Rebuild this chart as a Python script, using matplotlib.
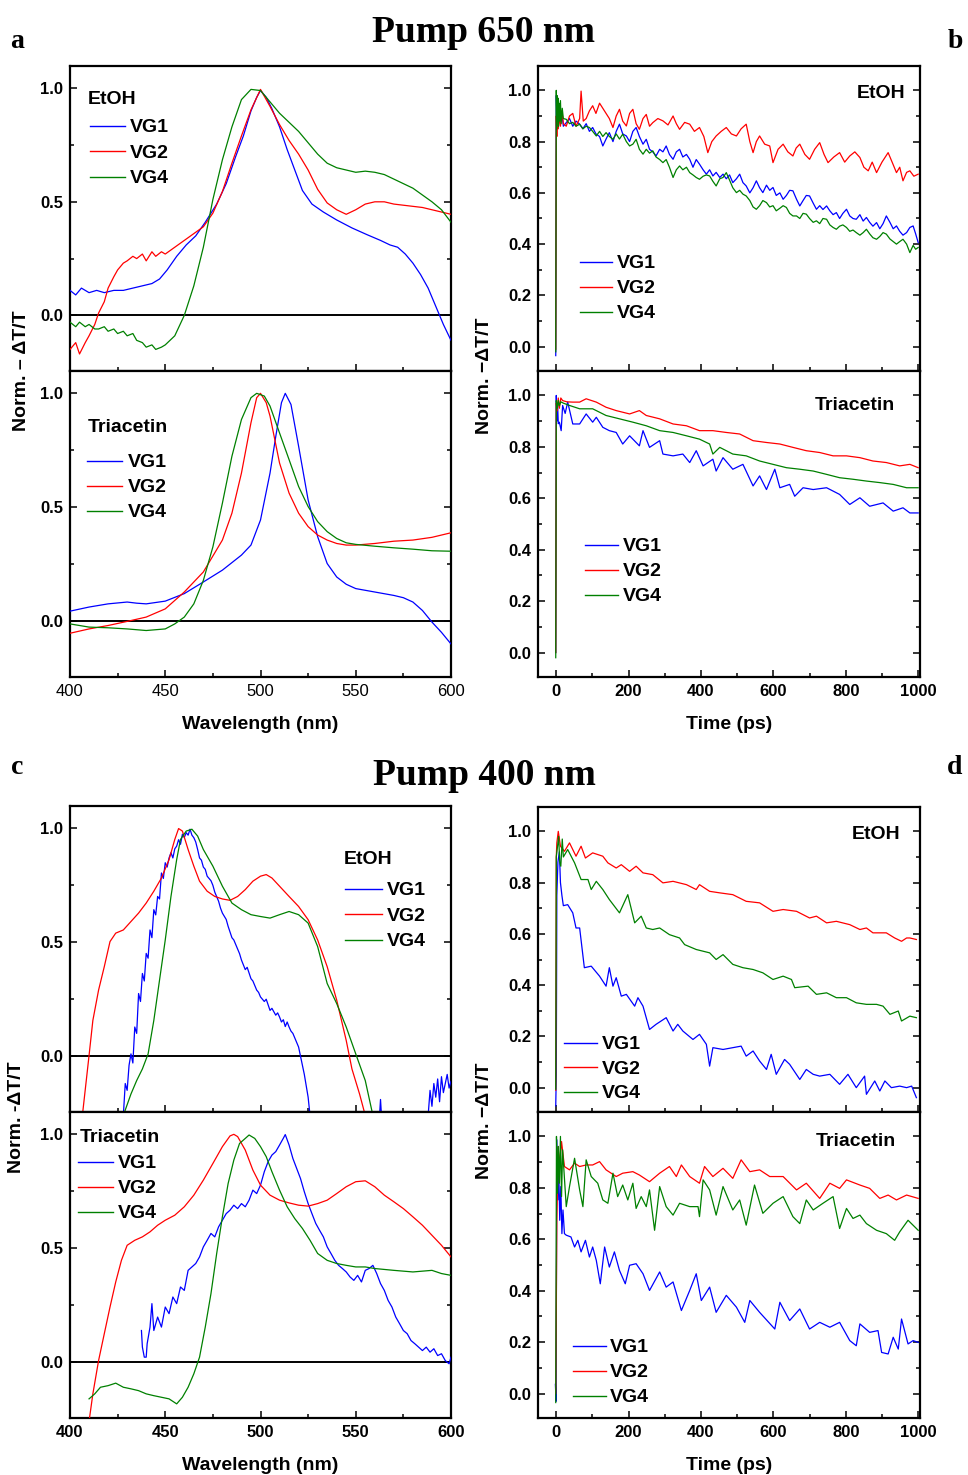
import numpy as np
import matplotlib
matplotlib.use('Agg')
import matplotlib.pyplot as plt
from matplotlib.ticker import MultipleLocator, FormatStrFormatter
from matplotlib.lines import Line2D

W, H = 968, 1475
plt.rcParams['font.family'] = ['Liberation Sans', 'DejaVu Sans']
plt.rcParams['font.weight'] = 'bold'
plt.rcParams['axes.labelweight'] = 'bold'

BLUE, RED, GREEN = '#0000FF', '#FF0000', '#008000'
series_labels = ['VG1', 'VG2', 'VG4']
series_colors = [BLUE, RED, GREEN]

# ---------------- Panel a, top (Pump 650 nm, EtOH spectra) ----------------
a1_wl_vg1 = [400, 403, 406, 410, 414, 418, 423, 428, 433, 438, 443, 447, 451, 456, 461, 466, 471, 477, 482,
             487, 491, 495, 498, 500, 503, 506, 510, 514, 518, 522, 527, 533, 540, 548, 556, 563, 568, 572,
             576, 580, 584, 588, 592, 596, 600]
a1_vg1 = [0.11, 0.09, 0.12, 0.10, 0.11, 0.10, 0.11, 0.11, 0.12, 0.13, 0.14, 0.16, 0.20, 0.26, 0.31, 0.35, 0.41,
          0.49, 0.58, 0.70, 0.79, 0.90, 0.96, 0.99, 0.96, 0.91, 0.83, 0.73, 0.64, 0.55, 0.49, 0.455, 0.42, 0.385,
          0.355, 0.33, 0.31, 0.30, 0.27, 0.23, 0.18, 0.12, 0.04, -0.04, -0.11]
a1_wl_vg2 = [400, 403, 405, 408, 410, 413, 415, 418, 420, 423, 425, 428, 430, 433, 435, 438, 440, 443, 445, 448,
             450, 455, 460, 465, 470, 475, 480, 485, 490, 495, 500, 505, 510, 515, 520, 525, 530, 535, 540, 545,
             550, 555, 560, 565, 570, 575, 580, 585, 590, 595, 600]
a1_vg2 = [-0.15, -0.12, -0.17, -0.12, -0.09, -0.04, 0.01, 0.06, 0.12, 0.17, 0.20, 0.23, 0.24, 0.26, 0.25, 0.27,
          0.24, 0.28, 0.26, 0.28, 0.27, 0.30, 0.33, 0.36, 0.39, 0.45, 0.545, 0.67, 0.79, 0.905, 0.995, 0.92,
          0.84, 0.77, 0.71, 0.64, 0.555, 0.495, 0.465, 0.445, 0.465, 0.49, 0.50, 0.50, 0.49, 0.485, 0.48,
          0.475, 0.465, 0.455, 0.445]
a1_wl_vg4 = [400, 403, 405, 408, 410, 413, 415, 418, 420, 423, 425, 428, 430, 433, 435, 438, 440, 443, 445, 448,
             450, 455, 460, 465, 470, 475, 480, 485, 490, 495, 500, 505, 510, 515, 520, 525, 530, 535, 540, 545,
             550, 555, 560, 565, 570, 575, 580, 585, 590, 595, 600]
a1_vg4 = [-0.03, -0.05, -0.03, -0.05, -0.04, -0.06, -0.06, -0.05, -0.07, -0.06, -0.08, -0.07, -0.09, -0.08,
          -0.11, -0.12, -0.14, -0.13, -0.15, -0.14, -0.13, -0.09, 0.00, 0.13, 0.30, 0.51, 0.685, 0.83, 0.95,
          0.995, 0.99, 0.94, 0.89, 0.85, 0.81, 0.76, 0.71, 0.67, 0.65, 0.64, 0.63, 0.635, 0.63, 0.62, 0.60,
          0.58, 0.56, 0.53, 0.50, 0.465, 0.41]

# ---------------- Panel a, bottom (Pump 650 nm, Triacetin spectra) ----------------
a2_wl_vg1 = [400, 410, 420, 430, 435, 440, 450, 460, 470, 480, 490, 495, 500, 505, 508, 511, 513, 516, 520,
             525, 530, 535, 540, 545, 550, 560, 570, 575, 580, 585, 590, 595, 600]
a2_vg1 = [0.044, 0.062, 0.076, 0.084, 0.079, 0.076, 0.088, 0.121, 0.172, 0.224, 0.29, 0.334, 0.444, 0.65, 0.81,
          0.959, 1.0, 0.951, 0.768, 0.532, 0.371, 0.253, 0.194, 0.162, 0.143, 0.128, 0.113, 0.103, 0.084, 0.047,
          -0.004, -0.049, -0.10]
a2_wl_vg2 = [400, 410, 420, 430, 440, 450, 460, 470, 480, 485, 490, 495, 498, 500, 503, 505, 510, 515, 520,
             525, 530, 535, 540, 545, 550, 560, 570, 580, 590, 600]
a2_vg2 = [-0.053, -0.034, -0.019, -0.001, 0.018, 0.054, 0.128, 0.216, 0.356, 0.474, 0.65, 0.871, 0.981, 1.0,
          0.959, 0.90, 0.694, 0.562, 0.474, 0.415, 0.378, 0.356, 0.341, 0.334, 0.334, 0.341, 0.351, 0.356,
          0.368, 0.388]
a2_wl_vg4 = [400, 410, 420, 430, 440, 450, 455, 460, 465, 470, 475, 480, 485, 490, 495, 498, 502, 505, 510,
             515, 520, 525, 530, 535, 540, 545, 550, 560, 570, 580, 590, 600]
a2_vg4 = [-0.012, -0.026, -0.029, -0.034, -0.041, -0.034, -0.012, 0.018, 0.076, 0.179, 0.326, 0.518, 0.724,
          0.885, 0.981, 1.0, 0.988, 0.944, 0.826, 0.709, 0.591, 0.503, 0.437, 0.393, 0.363, 0.344, 0.337,
          0.329, 0.322, 0.316, 0.309, 0.307]

# ---------------- Panel b, top (Pump 650 nm, EtOH kinetics) : (time ps, value) ----------------
b1_vg1_pts = [(-1, -0.035), (0.5, 0.98), (2, 0.90), (4, 0.95), (6, 0.87), (9, 0.92), (12, 0.88), (16, 0.91),
              (20, 0.86), (28, 0.874), (37, 0.89), (46, 0.86), (55, 0.88), (65, 0.868), (74, 0.85), (83, 0.87),
              (92, 0.84), (101, 0.855), (110, 0.83), (120, 0.82), (129, 0.783), (138, 0.81), (147, 0.835),
              (157, 0.80), (166, 0.84), (175, 0.868), (184, 0.83), (194, 0.822), (203, 0.80), (212, 0.84),
              (221, 0.855), (230, 0.82), (240, 0.79), (249, 0.809), (258, 0.77), (267, 0.76), (276, 0.744),
              (286, 0.77), (295, 0.76), (304, 0.783), (313, 0.75), (323, 0.731), (332, 0.76), (341, 0.77),
              (350, 0.74), (360, 0.75), (369, 0.731), (378, 0.70), (387, 0.73), (396, 0.712), (406, 0.69),
              (415, 0.673), (424, 0.69), (433, 0.666), (442, 0.68), (452, 0.66), (461, 0.673), (470, 0.655),
              (479, 0.67), (488, 0.64), (498, 0.655), (507, 0.673), (516, 0.64), (525, 0.627), (535, 0.60),
              (544, 0.62), (553, 0.647), (562, 0.62), (571, 0.601), (581, 0.63), (590, 0.61), (599, 0.621),
              (608, 0.59), (618, 0.60), (627, 0.575), (636, 0.59), (645, 0.61), (654, 0.608), (664, 0.575),
              (673, 0.549), (682, 0.57), (691, 0.59), (700, 0.588), (710, 0.56), (719, 0.536), (728, 0.55),
              (737, 0.535), (747, 0.549), (756, 0.53), (765, 0.515), (774, 0.523), (783, 0.50), (792, 0.52),
              (802, 0.536), (811, 0.51), (820, 0.50), (829, 0.497), (839, 0.515), (848, 0.49), (857, 0.504),
              (866, 0.485), (875, 0.47), (885, 0.484), (894, 0.46), (903, 0.48), (912, 0.51), (922, 0.485),
              (931, 0.46), (940, 0.471), (949, 0.45), (958, 0.435), (968, 0.445), (977, 0.465), (986, 0.471),
              (993, 0.44), (1000, 0.406)]
b1_vg2_pts = [(-1, -0.01), (0.5, 0.90), (2, 0.82), (4, 0.93), (6, 0.85), (9, 0.90), (12, 0.86), (16, 0.92),
              (20, 0.87), (28, 0.86), (37, 0.90), (46, 0.91), (55, 0.86), (65, 0.89), (69, 0.997), (75, 0.88),
              (83, 0.89), (92, 0.92), (101, 0.94), (110, 0.91), (120, 0.95), (129, 0.93), (138, 0.91),
              (147, 0.89), (157, 0.855), (166, 0.90), (175, 0.926), (184, 0.88), (194, 0.861), (203, 0.91),
              (212, 0.926), (221, 0.87), (230, 0.848), (240, 0.89), (249, 0.906), (258, 0.86), (267, 0.874),
              (281, 0.89), (295, 0.881), (309, 0.865), (323, 0.90), (332, 0.87), (341, 0.848), (355, 0.875),
              (369, 0.868), (382, 0.84), (396, 0.855), (408, 0.82), (419, 0.757), (430, 0.80), (442, 0.822),
              (456, 0.84), (470, 0.855), (484, 0.83), (498, 0.822), (511, 0.85), (525, 0.868), (535, 0.80),
              (544, 0.757), (553, 0.80), (562, 0.822), (576, 0.79), (590, 0.783), (599, 0.718), (613, 0.77),
              (627, 0.79), (640, 0.76), (654, 0.744), (663, 0.775), (673, 0.79), (687, 0.75), (700, 0.731),
              (714, 0.77), (728, 0.796), (740, 0.75), (751, 0.718), (767, 0.74), (783, 0.757), (797, 0.72),
              (811, 0.744), (825, 0.76), (839, 0.738), (850, 0.70), (862, 0.686), (873, 0.72), (885, 0.679),
              (900, 0.72), (917, 0.757), (928, 0.72), (940, 0.679), (949, 0.70), (958, 0.647), (968, 0.68),
              (977, 0.686), (988, 0.665), (1000, 0.673)]
b1_vg4_pts = [(-1, -0.02), (0.5, 1.0), (1.5, 0.85), (2.5, 0.98), (3.5, 0.88), (5, 0.97), (6.5, 0.86), (8, 0.95),
              (10, 0.88), (12, 0.96), (14, 0.87), (17, 0.93), (20, 0.89), (28, 0.887), (37, 0.87), (46, 0.875),
              (55, 0.86), (65, 0.868), (74, 0.85), (83, 0.86), (92, 0.855), (101, 0.84), (111, 0.822),
              (120, 0.84), (129, 0.82), (138, 0.835), (147, 0.82), (157, 0.809), (166, 0.83), (175, 0.81),
              (184, 0.829), (194, 0.80), (203, 0.783), (212, 0.79), (221, 0.809), (230, 0.77), (240, 0.751),
              (249, 0.77), (258, 0.755), (267, 0.764), (276, 0.74), (286, 0.73), (295, 0.718), (304, 0.73),
              (313, 0.70), (323, 0.66), (332, 0.69), (341, 0.705), (350, 0.69), (360, 0.70), (369, 0.679),
              (378, 0.67), (387, 0.66), (396, 0.653), (406, 0.665), (415, 0.67), (424, 0.666), (433, 0.645),
              (442, 0.627), (452, 0.655), (461, 0.66), (470, 0.679), (479, 0.65), (488, 0.62), (498, 0.601),
              (507, 0.61), (516, 0.595), (525, 0.588), (535, 0.57), (544, 0.545), (553, 0.536), (562, 0.55),
              (571, 0.57), (581, 0.562), (590, 0.545), (599, 0.55), (608, 0.53), (618, 0.54), (627, 0.55),
              (636, 0.543), (645, 0.52), (654, 0.51), (664, 0.51), (673, 0.50), (682, 0.52), (691, 0.517),
              (700, 0.50), (710, 0.485), (719, 0.491), (728, 0.48), (737, 0.50), (747, 0.497), (756, 0.475),
              (765, 0.465), (774, 0.458), (783, 0.47), (792, 0.475), (802, 0.465), (811, 0.45), (820, 0.455),
              (829, 0.445), (839, 0.435), (848, 0.445), (857, 0.458), (866, 0.44), (875, 0.425), (885, 0.419),
              (894, 0.43), (903, 0.445), (912, 0.439), (922, 0.42), (931, 0.41), (940, 0.40), (949, 0.41),
              (958, 0.419), (968, 0.40), (977, 0.367), (986, 0.395), (993, 0.38), (1000, 0.387)]

# ---------------- Panel b, bottom (Pump 650 nm, Triacetin kinetics) ----------------
b2_t_vg1 = [-1, 0.5, 2, 4, 6, 9, 14, 18, 25, 32, 46, 65, 83, 101, 111, 129, 147, 166, 184, 203, 230, 240, 258,
            286, 295, 323, 350, 369, 387, 406, 433, 442, 461, 488, 516, 544, 562, 581, 604, 618, 645, 659, 682,
            710, 747, 783, 811, 839, 866, 903, 931, 958, 977, 1000]
b2_vg1 = [0.0, 1.0, 0.90, 0.97, 0.89, 0.896, 0.863, 0.961, 0.93, 0.974, 0.889, 0.889, 0.928, 0.896, 0.915,
          0.876, 0.863, 0.856, 0.811, 0.843, 0.804, 0.863, 0.798, 0.824, 0.772, 0.765, 0.772, 0.739, 0.785,
          0.726, 0.752, 0.706, 0.758, 0.713, 0.732, 0.648, 0.687, 0.634, 0.713, 0.641, 0.654, 0.608, 0.641,
          0.634, 0.641, 0.615, 0.576, 0.602, 0.569, 0.582, 0.55, 0.563, 0.543, 0.543]
b2_t_vg2 = [-1, 0.5, 3, 6, 9, 13, 18, 30, 46, 65, 83, 111, 138, 166, 203, 230, 249, 286, 323, 360, 396, 433, 470,
            507, 544, 581, 618, 654, 691, 728, 765, 802, 839, 875, 912, 949, 977, 1000]
b2_vg2 = [0.0, 0.97, 0.94, 0.99, 0.95, 0.99, 0.98, 0.975, 0.974, 0.974, 0.987, 0.974, 0.954, 0.941, 0.928, 0.941,
          0.922, 0.909, 0.889, 0.882, 0.863, 0.863, 0.856, 0.85, 0.824, 0.817, 0.811, 0.798, 0.785, 0.778,
          0.765, 0.765, 0.758, 0.745, 0.739, 0.726, 0.732, 0.719]
b2_t_vg4 = [-1, 0.5, 3, 6, 9, 13, 20, 37, 65, 101, 138, 175, 212, 249, 286, 323, 360, 396, 424, 433, 452, 488,
            525, 562, 599, 636, 673, 710, 747, 783, 820, 857, 894, 931, 968, 1000]
b2_vg4 = [-0.02, 0.98, 0.95, 0.98, 0.96, 0.975, 0.97, 0.961, 0.948, 0.948, 0.922, 0.909, 0.896, 0.882, 0.863,
          0.856, 0.843, 0.83, 0.811, 0.772, 0.798, 0.772, 0.765, 0.745, 0.732, 0.719, 0.713, 0.706, 0.693, 0.68,
          0.674, 0.667, 0.661, 0.654, 0.641, 0.641]

# ---------------- Panel c, top (Pump 400 nm, EtOH spectra) : (wavelength nm, value) ----------------
c1_vg1_pts = [(428, -0.26), (429, -0.12), (430, -0.15), (431, -0.04), (432, 0.01), (433, -0.03), (434, 0.128),
              (435, 0.10), (436, 0.275), (437, 0.24), (438, 0.363), (439, 0.33), (440, 0.451), (441, 0.43),
              (442, 0.554), (443, 0.52), (444, 0.643), (445, 0.62), (446, 0.701), (447, 0.69), (448, 0.804),
              (449, 0.78), (450, 0.849), (451, 0.83), (452, 0.87), (453, 0.893), (454, 0.87), (455, 0.91),
              (456, 0.922), (457, 0.95), (458, 0.93), (459, 0.974), (460, 0.96), (461, 0.981), (462, 0.97),
              (463, 0.996), (464, 0.97), (465, 0.959), (466, 0.94), (467, 0.907), (468, 0.87), (469, 0.86),
              (470, 0.83), (471, 0.82), (472, 0.79), (473, 0.78), (474, 0.77), (475, 0.75), (476, 0.72),
              (477, 0.70), (478, 0.68), (479, 0.65), (480, 0.628), (482, 0.60), (483, 0.57), (485, 0.52),
              (486, 0.51), (488, 0.47), (489, 0.45), (490, 0.422), (492, 0.38), (493, 0.39), (495, 0.34),
              (496, 0.33), (498, 0.29), (499, 0.28), (500, 0.26), (502, 0.24), (503, 0.25), (505, 0.201),
              (506, 0.21), (508, 0.18), (509, 0.19), (510, 0.172), (511, 0.15), (512, 0.16), (513, 0.13),
              (514, 0.15), (515, 0.128), (516, 0.11), (517, 0.10), (518, 0.08), (519, 0.06), (520, 0.04),
              (521, 0.0), (522, -0.04), (523, -0.08), (524, -0.13), (525, -0.18), (526, -0.26),
              (np.nan, np.nan),
              (562.5, -0.26), (563, -0.19), (563.5, -0.26),
              (np.nan, np.nan),
              (588, -0.26), (589, -0.15), (590, -0.22), (591, -0.12), (592, -0.18), (593, -0.10), (594, -0.20),
              (595, -0.09), (596, -0.16), (597, -0.12), (598, -0.08), (599, -0.14), (600, -0.11)]
c1_wl_vg2 = [406.5, 410, 412, 415, 418, 421, 424, 428, 432, 436, 440, 444, 448, 452, 455, 457, 459, 462, 465,
             468, 472, 476, 480, 484, 488, 492, 496, 500, 503, 506, 510, 515, 520, 525, 530, 535, 540, 545,
             548, 552, 555]
c1_vg2 = [-0.26, 0.003, 0.157, 0.29, 0.393, 0.503, 0.54, 0.554, 0.591, 0.628, 0.672, 0.724, 0.782, 0.863,
          0.951, 0.999, 0.988, 0.907, 0.834, 0.768, 0.724, 0.701, 0.69, 0.684, 0.701, 0.731, 0.768, 0.79,
          0.797, 0.782, 0.746, 0.701, 0.657, 0.599, 0.51, 0.393, 0.246, 0.069, -0.056, -0.166, -0.26]
c1_wl_vg4 = [428, 432, 435, 438, 441, 444, 447, 450, 453, 456, 458, 461, 464, 467, 470, 475, 480, 485, 490,
             495, 500, 505, 510, 515, 520, 525, 530, 535, 540, 545, 550, 555, 559]
c1_vg4 = [-0.26, -0.166, -0.107, -0.056, 0.01, 0.157, 0.334, 0.51, 0.701, 0.863, 0.951, 0.988, 0.996, 0.966,
          0.907, 0.834, 0.746, 0.672, 0.643, 0.621, 0.613, 0.606, 0.621, 0.635, 0.621, 0.584, 0.481, 0.319,
          0.231, 0.128, 0.01, -0.107, -0.26]

# ---------------- Panel c, bottom (Pump 400 nm, Triacetin spectra) ----------------
c2_wl_vg1 = [437.5, 438, 439, 440, 440.5, 442, 443, 444, 446, 448, 450, 452, 454, 456, 458, 460, 462, 464, 466,
             468, 470, 472, 474, 476, 478, 480, 482, 484, 486, 488, 490, 492, 494, 496, 498, 500, 502, 504, 506,
             508, 510, 512, 513, 515, 517, 519, 521, 523, 525, 527, 529, 531, 533, 535, 537, 539, 541, 543, 545,
             547, 549, 551, 553, 555, 557, 559, 561, 563, 565, 567, 569, 571, 573, 575, 577, 579, 581, 583, 585,
             587, 589, 591, 593, 595, 597, 599, 600]
c2_vg1 = [0.139, 0.066, 0.022, 0.022, 0.081, 0.154, 0.257, 0.139, 0.198, 0.154, 0.242, 0.213, 0.286, 0.257,
          0.33, 0.315, 0.403, 0.418, 0.433, 0.462, 0.506, 0.535, 0.565, 0.55, 0.594, 0.623, 0.652, 0.667, 0.689,
          0.674, 0.696, 0.682, 0.711, 0.755, 0.74, 0.777, 0.836, 0.88, 0.909, 0.924, 0.953, 0.983, 0.999, 0.953,
          0.894, 0.85, 0.806, 0.748, 0.696, 0.652, 0.609, 0.579, 0.55, 0.506, 0.477, 0.447, 0.425, 0.411,
          0.396, 0.374, 0.359, 0.381, 0.352, 0.403, 0.411, 0.425, 0.389, 0.345, 0.315, 0.271, 0.242, 0.198,
          0.169, 0.139, 0.125, 0.095, 0.081, 0.066, 0.051, 0.066, 0.044, 0.059, 0.029, 0.037, 0.007, -0.007,
          0.022]
c2_wl_vg2 = [410, 412, 415, 418, 421, 424, 427, 430, 434, 438, 442, 446, 450, 455, 460, 465, 470, 475, 480, 484,
             486, 488, 492, 496, 500, 505, 510, 515, 520, 525, 530, 535, 540, 545, 550, 555, 560, 565, 570, 575,
             580, 585, 590, 595, 600]
c2_vg2 = [-0.26, -0.139, 0.007, 0.125, 0.242, 0.352, 0.447, 0.513, 0.535, 0.55, 0.572, 0.601, 0.623, 0.645,
          0.682, 0.733, 0.799, 0.872, 0.946, 0.993, 1.0, 0.99, 0.931, 0.843, 0.777, 0.733, 0.711, 0.699, 0.689,
          0.685, 0.696, 0.711, 0.74, 0.77, 0.792, 0.796, 0.77, 0.733, 0.704, 0.674, 0.638, 0.601, 0.557,
          0.513, 0.462]
c2_wl_vg4 = [410, 413, 416, 420, 424, 428, 432, 436, 440, 444, 448, 452, 456, 459, 462, 465, 468, 471, 474, 477,
             480, 483, 486, 489, 492, 494, 497, 500, 503, 506, 510, 514, 518, 522, 526, 530, 535, 540, 545, 550,
             555, 560, 570, 580, 590, 595, 600]
c2_vg4 = [-0.161, -0.139, -0.11, -0.103, -0.092, -0.11, -0.117, -0.125, -0.139, -0.147, -0.154, -0.161, -0.183,
          -0.154, -0.11, -0.051, 0.022, 0.154, 0.301, 0.477, 0.638, 0.784, 0.887, 0.96, 0.982, 0.997, 0.982,
          0.946, 0.902, 0.836, 0.755, 0.682, 0.63, 0.587, 0.535, 0.477, 0.447, 0.433, 0.425, 0.418, 0.418,
          0.411, 0.403, 0.396, 0.403, 0.389, 0.381]

# ---------------- Panel d, top (Pump 400 nm, EtOH kinetics) ----------------
d1_t_vg1 = [-1, 0.5, 2, 5, 9, 12, 16, 20, 32, 46, 55, 65, 78, 97, 120, 138, 147, 157, 166, 180, 194, 217, 226,
            240, 258, 276, 304, 323, 336, 350, 378, 396, 415, 424, 433, 461, 488, 511, 525, 544, 562, 581, 594,
            608, 631, 645, 673, 691, 710, 728, 756, 783, 806, 829, 852, 857, 880, 894, 908, 926, 949, 968, 982,
            995]
d1_vg1 = [-0.071, 0.05, 0.75, 0.88, 0.92, 0.80, 0.75, 0.71, 0.714, 0.682, 0.623, 0.623, 0.468, 0.474, 0.435,
          0.396, 0.468, 0.396, 0.429, 0.357, 0.364, 0.318, 0.351, 0.318, 0.227, 0.247, 0.273, 0.221, 0.247,
          0.221, 0.188, 0.208, 0.169, 0.084, 0.156, 0.149, 0.156, 0.162, 0.123, 0.143, 0.104, 0.071, 0.13,
          0.052, 0.11, 0.091, 0.032, 0.071, 0.052, 0.045, 0.052, 0.013, 0.052, 0.0, 0.045, -0.026, 0.026,
          -0.013, 0.026, 0.0, 0.006, 0.0, 0.006, -0.039]
d1_t_vg2 = [-1, 0.5, 2, 6, 12, 23, 37, 55, 69, 81, 101, 129, 143, 166, 180, 203, 221, 240, 267, 295, 323, 360,
            387, 396, 424, 452, 488, 525, 562, 599, 627, 664, 700, 719, 747, 774, 811, 839, 857, 875, 912, 935,
            954, 968, 977, 995]
d1_vg2 = [-0.01, 0.90, 0.955, 1.0, 0.942, 0.922, 0.955, 0.903, 0.942, 0.896, 0.916, 0.903, 0.877, 0.857, 0.87,
          0.844, 0.864, 0.838, 0.831, 0.799, 0.805, 0.792, 0.773, 0.792, 0.766, 0.76, 0.753, 0.727, 0.721,
          0.688, 0.695, 0.688, 0.662, 0.669, 0.643, 0.649, 0.636, 0.617, 0.623, 0.604, 0.604, 0.584, 0.571,
          0.584, 0.584, 0.578]
d1_t_vg4 = [-1, 0.5, 5, 7, 10, 13, 17, 20, 32, 51, 69, 88, 97, 111, 129, 147, 175, 198, 217, 235, 249, 267,
            286, 313, 341, 355, 387, 424, 442, 461, 488, 516, 544, 571, 599, 627, 650, 659, 696, 719, 747, 774,
            802, 829, 857, 885, 903, 922, 945, 954, 977, 995]
d1_vg4 = [-0.006, 0.90, 0.955, 0.98, 0.88, 0.864, 0.97, 0.90, 0.929, 0.877, 0.812, 0.812, 0.773, 0.805, 0.773,
          0.734, 0.682, 0.753, 0.643, 0.669, 0.623, 0.617, 0.623, 0.597, 0.584, 0.558, 0.539, 0.526, 0.50,
          0.519, 0.481, 0.468, 0.461, 0.448, 0.422, 0.435, 0.422, 0.39, 0.396, 0.364, 0.37, 0.351, 0.351,
          0.331, 0.325, 0.325, 0.318, 0.286, 0.299, 0.26, 0.279, 0.273]

# ---------------- Panel d, bottom (Pump 400 nm, Triacetin kinetics) ----------------
d2_t_vg1 = [-2, 0, 2, 5, 7, 10, 13, 16, 19, 23, 28, 41, 51, 60, 69, 81, 92, 101, 111, 122, 134, 147, 161, 175,
            191, 203, 221, 240, 258, 286, 304, 323, 346, 369, 387, 401, 424, 442, 470, 498, 521, 535, 562, 604,
            618, 645, 673, 700, 728, 756, 783, 811, 829, 839, 866, 889, 899, 917, 931, 945, 954, 972, 986, 1000]
d2_vg1 = [0.036, -0.03, 0.987, 0.753, 0.909, 0.674, 0.805, 0.622, 0.714, 0.622, 0.616, 0.609, 0.57, 0.596,
          0.551, 0.596, 0.531, 0.57, 0.518, 0.427, 0.57, 0.492, 0.551, 0.479, 0.427, 0.499, 0.505, 0.466,
          0.401, 0.473, 0.414, 0.434, 0.323, 0.401, 0.466, 0.362, 0.414, 0.316, 0.382, 0.336, 0.277, 0.362,
          0.316, 0.251, 0.355, 0.284, 0.329, 0.251, 0.277, 0.258, 0.277, 0.206, 0.186, 0.271, 0.238, 0.245,
          0.16, 0.154, 0.219, 0.173, 0.29, 0.193, 0.206, 0.199]
d2_t_vg2 = [-1, 2, 6, 9, 15, 23, 37, 51, 65, 83, 101, 120, 138, 166, 184, 212, 230, 258, 286, 313, 332, 346,
            369, 396, 410, 433, 461, 488, 511, 535, 562, 590, 627, 664, 691, 728, 756, 783, 802, 839, 866, 894,
            917, 940, 968, 1000]
d2_vg2 = [0.0, 0.674, 0.961, 0.883, 0.98, 0.883, 0.87, 0.896, 0.883, 0.889, 0.889, 0.902, 0.87, 0.844, 0.857,
          0.863, 0.85, 0.824, 0.857, 0.883, 0.844, 0.889, 0.844, 0.818, 0.883, 0.844, 0.876, 0.837, 0.909,
          0.863, 0.87, 0.844, 0.844, 0.792, 0.818, 0.759, 0.818, 0.798, 0.831, 0.811, 0.798, 0.759, 0.772,
          0.753, 0.772, 0.759]
d2_t_vg4 = [-1, 1, 4, 6, 9, 12, 15, 18, 28, 37, 51, 65, 74, 83, 97, 115, 129, 143, 157, 170, 184, 198, 212,
            221, 235, 249, 258, 272, 286, 304, 323, 341, 369, 392, 396, 406, 424, 442, 461, 488, 507, 525, 548,
            571, 599, 627, 654, 673, 691, 710, 737, 765, 783, 802, 820, 839, 857, 885, 912, 935, 949, 972, 1000]
d2_vg4 = [-0.035, 1.0, 0.779, 0.961, 0.818, 1.0, 0.766, 0.948, 0.727, 0.805, 0.915, 0.792, 0.727, 0.909, 0.844,
          0.818, 0.753, 0.74, 0.857, 0.766, 0.811, 0.753, 0.818, 0.72, 0.766, 0.727, 0.792, 0.635, 0.805,
          0.727, 0.694, 0.74, 0.727, 0.727, 0.688, 0.831, 0.792, 0.694, 0.805, 0.714, 0.753, 0.655, 0.811,
          0.701, 0.74, 0.766, 0.688, 0.661, 0.753, 0.714, 0.74, 0.766, 0.642, 0.72, 0.681, 0.694, 0.661,
          0.635, 0.622, 0.596, 0.629, 0.674, 0.635]


def unzip(pts):
    return [p[0] for p in pts], [p[1] for p in pts]


b1_t_vg1, b1_vg1 = unzip(b1_vg1_pts)
b1_t_vg2, b1_vg2 = unzip(b1_vg2_pts)
b1_t_vg4, b1_vg4 = unzip(b1_vg4_pts)
c1_wl_vg1, c1_vg1 = unzip(c1_vg1_pts)

# =====================================================================
fig = plt.figure(figsize=(W / 100, H / 100), dpi=100)


def add_ax(x0, y0, x1, y1):
    return fig.add_axes([x0 / W, 1 - y1 / H, (x1 - x0) / W, (y1 - y0) / H])


def style(ax, kind, show_xlabels, bold_x=True):
    for s in ax.spines.values():
        s.set_linewidth(1.6)
    ax.tick_params(which='both', direction='in', top=False, right=True, width=1.1)
    ax.tick_params(which='major', length=5, labelsize=12, pad=5)
    ax.tick_params(which='minor', length=3)
    if kind == 'spec':
        ax.set_xlim(400, 600)
        ax.set_ylim(-0.245, 1.098)
        ax.xaxis.set_major_locator(MultipleLocator(50))
        ax.xaxis.set_minor_locator(MultipleLocator(25))
        ax.yaxis.set_major_locator(MultipleLocator(0.5))
        ax.yaxis.set_minor_locator(MultipleLocator(0.25))
        ax.axhline(0, color='black', lw=1.4, zorder=1)
    else:
        ax.set_xlim(-50, 1005)
        ax.set_ylim(-0.095, 1.095)
        ax.xaxis.set_major_locator(MultipleLocator(200))
        ax.xaxis.set_minor_locator(MultipleLocator(100))
        ax.yaxis.set_major_locator(MultipleLocator(0.2))
        ax.yaxis.set_minor_locator(MultipleLocator(0.1))
    ax.yaxis.set_major_formatter(FormatStrFormatter('%.1f'))
    if not show_xlabels:
        ax.tick_params(labelbottom=False)
    elif not bold_x:
        for lab in ax.get_xticklabels():
            lab.set_fontweight('normal')


def plot3(ax, xs, ys):
    for x, y, c in zip(xs, ys, series_colors):
        ax.plot(x, y, color=c, lw=0.9, zorder=3)


def legend(ax, hx, hy, hend, tx, spacing):
    fs = 14
    fpx = fs * 100 / 72
    handles = [Line2D([], [], color=c, lw=1.0) for c in series_colors]
    row_h = 0.95 * fpx
    hy = hy + 3
    ax.legend(handles, series_labels, loc='upper left',
              bbox_to_anchor=(hx / W, 1 - (hy - row_h / 2) / H), bbox_transform=fig.transFigure,
              frameon=False, borderpad=0, borderaxespad=0,
              handlelength=(hend - hx) / fpx, handletextpad=(tx - hend) / fpx,
              labelspacing=(spacing + 0.4 - row_h) / fpx, prop={'size': fs, 'weight': 'bold'})


def ftext(x, y, s, **kw):
    fig.text(x / W, 1 - y / H, s, **kw)


def atext(x, y, s, **kw):
    # annotation text; small offset compensates for descent in the centred box
    ftext(x, y + 3, s, fontsize=14, va='center', **kw)


# Panel a
axa1 = add_ax(70, 66, 451, 371)
axa2 = add_ax(70, 371, 451, 677)
plot3(axa1, [a1_wl_vg1, a1_wl_vg2, a1_wl_vg4], [a1_vg1, a1_vg2, a1_vg4])
plot3(axa2, [a2_wl_vg1, a2_wl_vg2, a2_wl_vg4], [a2_vg1, a2_vg2, a2_vg4])
style(axa1, 'spec', False)
style(axa2, 'spec', True, bold_x=False)
axa2.set_xlabel('Wavelength (nm)', fontsize=14, labelpad=12)
legend(axa1, 90, 125, 125, 130, 26)
legend(axa2, 87, 460, 122, 128, 25.5)
atext(88, 96, 'EtOH', ha='left')
atext(88, 424, 'Triacetin', ha='left')

# Panel b
axb1 = add_ax(538, 66, 920, 371)
axb2 = add_ax(538, 371, 920, 677)
plot3(axb1, [b1_t_vg1, b1_t_vg2, b1_t_vg4], [b1_vg1, b1_vg2, b1_vg4])
plot3(axb2, [b2_t_vg1, b2_t_vg2, b2_t_vg4], [b2_vg1, b2_vg2, b2_vg4])
style(axb1, 'time', False)
style(axb2, 'time', True)
axb2.set_xlabel('Time (ps)', fontsize=14, labelpad=12)
legend(axb1, 580, 261, 612, 617, 25.5)
legend(axb2, 585, 544, 618, 623, 25.5)
atext(905, 91, 'EtOH', ha='right')
atext(895, 403, 'Triacetin', ha='right')

# Panel c
axc1 = add_ax(70, 806, 451, 1112)
axc2 = add_ax(70, 1112, 451, 1418)
plot3(axc1, [c1_wl_vg1, c1_wl_vg2, c1_wl_vg4], [c1_vg1, c1_vg2, c1_vg4])
plot3(axc2, [c2_wl_vg1, c2_wl_vg2, c2_wl_vg4], [c2_vg1, c2_vg2, c2_vg4])
style(axc1, 'spec', False)
style(axc2, 'spec', True)
axc2.set_xlabel('Wavelength (nm)', fontsize=14, labelpad=12)
legend(axc1, 345, 888, 382, 387, 26)
legend(axc2, 78, 1161, 113, 118, 25.5)
atext(344, 857, 'EtOH', ha='left')
atext(80, 1134, 'Triacetin', ha='left')

# Panel d
axd1 = add_ax(538, 807, 920, 1112)
axd2 = add_ax(538, 1112, 920, 1418)
plot3(axd1, [d1_t_vg1, d1_t_vg2, d1_t_vg4], [d1_vg1, d1_vg2, d1_vg4])
plot3(axd2, [d2_t_vg1, d2_t_vg2, d2_t_vg4], [d2_vg1, d2_vg2, d2_vg4])
style(axd1, 'time', False)
style(axd2, 'time', True)
axd2.set_xlabel('Time (ps)', fontsize=14, labelpad=12)
legend(axd1, 564, 1042, 597, 602, 25)
legend(axd2, 573, 1345, 606, 610, 25.5)
atext(900, 832, 'EtOH', ha='right')
atext(896, 1139, 'Triacetin', ha='right')

# Shared y labels
ftext(22, 371, 'Norm. \u2013 \u0394T/T', fontsize=14, rotation=90, ha='center', va='center')
ftext(485, 376, 'Norm. \u2212\u0394T/T', fontsize=14, rotation=90, ha='center', va='center')
ftext(17, 1117, 'Norm. -\u0394T/T', fontsize=14, rotation=90, ha='center', va='center')
ftext(485, 1121, 'Norm. \u2212\u0394T/T', fontsize=14, rotation=90, ha='center', va='center')

# Titles and panel letters
serif = ['Liberation Serif', 'DejaVu Serif']
ftext(484, 32, 'Pump 650 nm', fontsize=27, family=serif, ha='center', va='center')
ftext(484, 775, 'Pump 400 nm', fontsize=27, family=serif, ha='center', va='center')
ftext(17, 42, 'a', fontsize=20, family=serif, ha='center', va='center')
ftext(955, 42, 'b', fontsize=20, family=serif, ha='center', va='center')
ftext(17, 768, 'c', fontsize=20, family=serif, ha='center', va='center')
ftext(955, 768, 'd', fontsize=20, family=serif, ha='center', va='center')

fig.savefig('out.png', dpi=100)
